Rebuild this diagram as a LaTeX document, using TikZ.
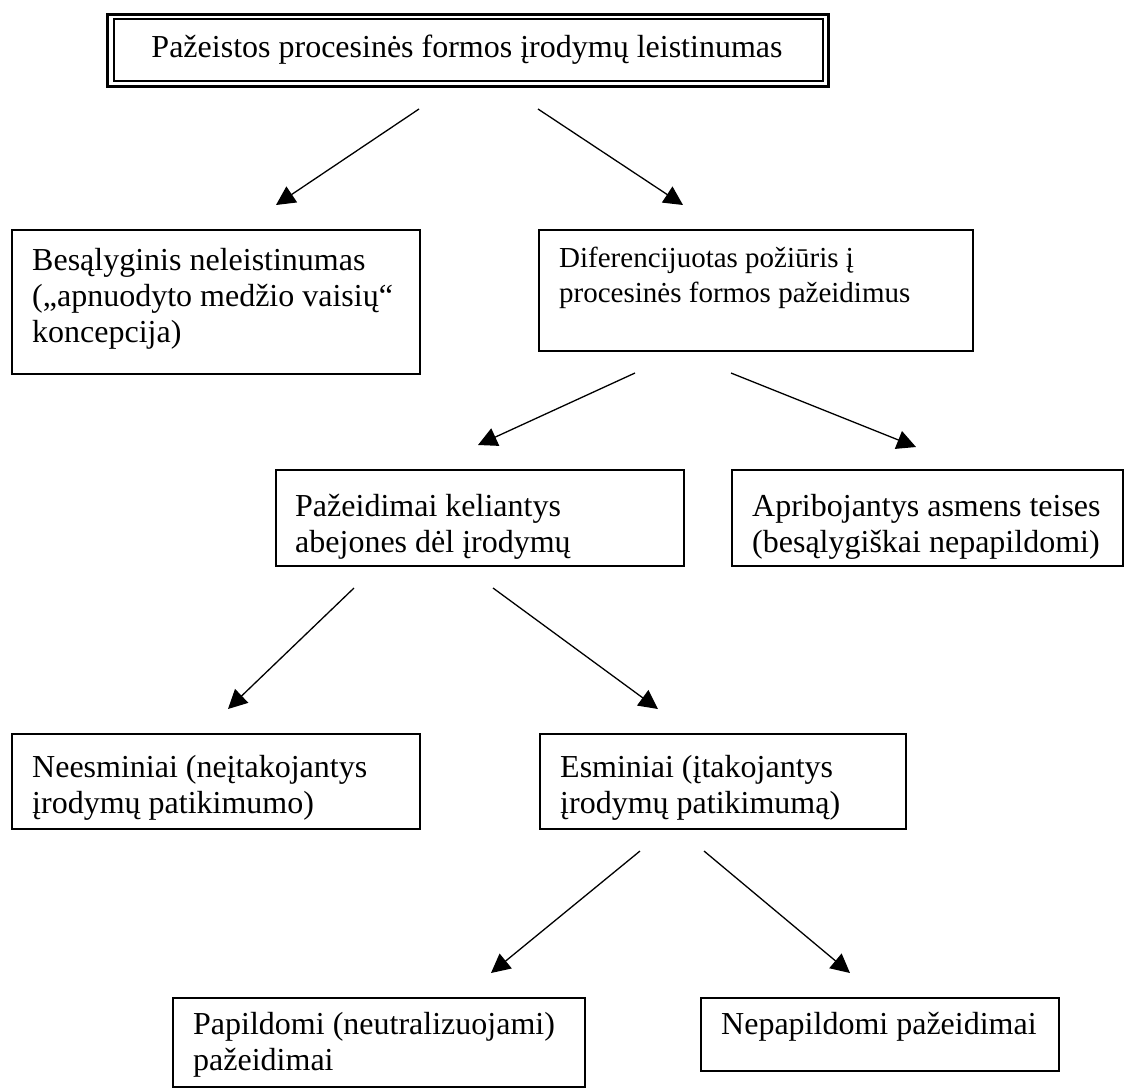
\documentclass[tikz,border=0pt]{standalone}
\usepackage{fontspec}
\setmainfont{Liberation Serif}
\usetikzlibrary{arrows.meta}
\begin{document}
\begin{tikzpicture}[x=1pt,y=-1pt,
  box/.style={draw, line width=1.6pt, anchor=north west, inner sep=0pt},
  txt/.style={anchor=north west, inner sep=0pt, align=left, font=\fontsize{32}{36}\selectfont},
  txts/.style={anchor=north west, inner sep=0pt, align=left, font=\fontsize{29}{35}\selectfont},
  arr/.style={line width=1.3pt, -{Triangle[length=19pt,width=19pt]}}]
\useasboundingbox[fill=white] (0,0) rectangle (1130,1088);
% top box (double frame)
\node[draw, line width=2.7pt, anchor=north west, inner sep=0pt, minimum width=721pt, minimum height=72pt] (topout) at (106.3,13.3) {};
\node[draw, line width=2pt, anchor=north west, inner sep=0pt, minimum width=709.6pt, minimum height=61.4pt] (topin) at (112.7,18.3) {};
\node[anchor=base, inner sep=0pt, font=\fontsize{32}{36}\selectfont] (toptxt) at (467,57) {Pažeistos procesinės formos įrodymų leistinumas};
% level B
\node[box, minimum width=408pt, minimum height=144pt] (b1) at (11,229) {};
\node[txt] (b1t) at (32,248) {Besąlyginis neleistinumas\\(„apnuodyto medžio vaisių“\\koncepcija)};
\node[box, minimum width=434pt, minimum height=121pt] (b2) at (538,229) {};
\node[txts] (b2t) at (559,247) {Diferencijuotas požiūris į\\procesinės formos pažeidimus};
% level C
\node[box, minimum width=408pt, minimum height=96pt] (c1) at (275,469) {};
\node[txt] (c1t) at (295,494) {Pažeidimai keliantys\\abejones dėl įrodymų};
\node[box, minimum width=391pt, minimum height=96pt] (c2) at (731,469) {};
\node[txt] (c2t) at (752,494) {Apribojantys asmens teises\\(besąlygiškai nepapildomi)};
% level D
\node[box, minimum width=408pt, minimum height=95pt] (d1) at (11,733) {};
\node[txt] (d1t) at (32,755) {Neesminiai (neįtakojantys\\įrodymų patikimumo)};
\node[box, minimum width=366pt, minimum height=95pt] (d2) at (539,733) {};
\node[txt] (d2t) at (560,755) {Esminiai (įtakojantys\\įrodymų patikimumą)};
% level E
\node[box, minimum width=412pt, minimum height=89pt] (e1) at (172,997) {};
\node[txt] (e1t) at (193,1012) {Papildomi (neutralizuojami)\\pažeidimai};
\node[box, minimum width=358pt, minimum height=73pt] (e2) at (700,997) {};
\node[txt] (e2t) at (721,1012) {Nepapildomi pažeidimai};
% arrow end points
\coordinate (a1s) at (419,109); \coordinate (a1e) at (276,205);
\coordinate (a2s) at (538,109); \coordinate (a2e) at (683,205);
\coordinate (a3s) at (635,373); \coordinate (a3e) at (478,445);
\coordinate (a4s) at (731,373); \coordinate (a4e) at (916,447);
\coordinate (a5s) at (354,588); \coordinate (a5e) at (228,709);
\coordinate (a6s) at (493,588); \coordinate (a6e) at (658,709);
\coordinate (a7s) at (640,851); \coordinate (a7e) at (491,973);
\coordinate (a8s) at (704,851); \coordinate (a8e) at (850,973);
\draw[arr] (a1s) -- (a1e);
\draw[arr] (a2s) -- (a2e);
\draw[arr] (a3s) -- (a3e);
\draw[arr] (a4s) -- (a4e);
\draw[arr] (a5s) -- (a5e);
\draw[arr] (a6s) -- (a6e);
\draw[arr] (a7s) -- (a7e);
\draw[arr] (a8s) -- (a8e);
\end{tikzpicture}
\end{document}
